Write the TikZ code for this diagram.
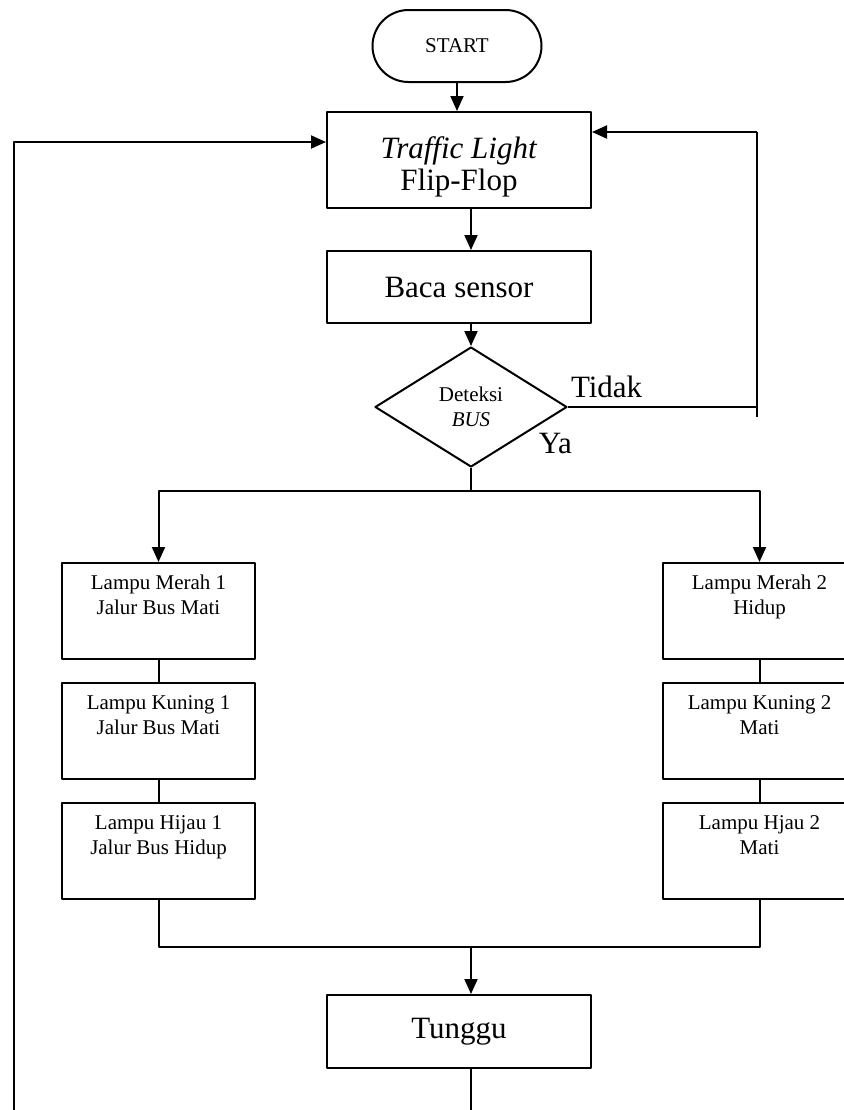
\documentclass[tikz,border=0pt]{standalone}
\usepackage{fontspec}
\setmainfont{Liberation Serif}
\usetikzlibrary{shapes.geometric,arrows.meta,calc}
\begin{document}
\begin{tikzpicture}[x=0.5pt,y=-0.5pt,line join=round,line width=1pt,
	>={Triangle[length=7.5pt,width=6.5pt]},
	kecil/.style={font=\fontsize{10.5}{12.5}\selectfont},
	besar/.style={font=\fontsize{15.5}{16}\selectfont},
	kotak/.style={draw,rectangle,align=center,inner sep=0pt},
	utama/.style={kotak,besar,minimum width=132pt},
	lampu/.style={kotak,kecil,minimum width=96.5pt,minimum height=48pt}]
		\useasboundingbox (0,0) rectangle (844,1110);
		\clip (0,0) rectangle (844,1110);
		
		\node[draw,rounded corners=18pt,minimum width=84.5pt,minimum height=36pt,kecil] (mulai) at (457,46) {START};
		\node[utama,minimum height=48pt,text height=34pt,text depth=3.5pt] (tl) at (459,160) {\textit{Traffic Light}\\Flip-Flop};
		\node[utama,minimum height=36pt] (bs) at (459,287) {Baca sensor};
		\node[draw,diamond,aspect=1.6,inner sep=0pt,minimum width=96pt,minimum height=60pt,kecil,align=center] (dt) at (471,407) {Deteksi\\\textit{BUS}};
		\node[besar,anchor=base west,inner sep=0pt] (tidak) at ($(dt.east)+(2,-10)$) {Tidak};
		\node[besar,anchor=base east,inner sep=0pt] (ya) at ($(dt.east)+(5,46)$) {Ya};
		
		% jalur 1
		\node[lampu] (m1) at (158.5,611) {Lampu Merah 1\\Jalur Bus Mati\\\strut};
		\node[lampu] (k1) at (158.5,731) {Lampu Kuning 1\\Jalur Bus Mati\\\strut};
		\node[lampu] (h1) at (158.5,851) {Lampu Hijau 1\\Jalur Bus Hidup\\\strut};
		% jalur 2
		\node[lampu] (m2) at (759.5,611) {Lampu Merah 2\\Hidup\\\strut};
		\node[lampu] (k2) at (759.5,731) {Lampu Kuning 2\\Mati\\\strut};
		\node[lampu] (h2) at (759.5,851) {Lampu Hjau 2\\Mati\\\strut};
		
		\node[utama,minimum height=36.5pt] (tg) at (459,1031.5) {Tunggu};
		
		\coordinate (kanan) at (757,132);
		\coordinate (kananb) at (757,417);
		\coordinate (kiri) at (14,142);
		\coordinate (kirib) at (14,1110);
		\coordinate (cabang) at (471,491);
		\coordinate (gabung) at (471,947);
		\coordinate (akhir) at (471,1110);
		
		\draw[->] (mulai.south) -- (mulai.south |- tl.north);
		\draw[->] (tl.south -| dt.north) -- (bs.north -| dt.north);
		\draw[->] (bs.south -| dt.north) -- (dt.north);
		\draw (dt.east) -- (dt.east -| kanan);
		\draw (kananb) -- (kanan);
		\draw[->] (kanan) -- (kanan -| tl.east);
		\draw[->] (kirib) -- (kiri) -- (kiri -| tl.west);
		
		\draw (dt.south) -- (cabang);
		\draw[->] (cabang) -| (m1.north);
		\draw[->] (cabang) -| (m2.north);
		\draw (m1) -- (k1);
		\draw (k1) -- (h1);
		\draw (m2) -- (k2);
		\draw (k2) -- (h2);
		\draw (h1.south) |- (gabung) -| (h2.south);
		\draw[->] (gabung) -- (tg.north -| gabung);
		\draw (tg.south -| akhir) -- (akhir);
	\end{tikzpicture}
\end{document}
